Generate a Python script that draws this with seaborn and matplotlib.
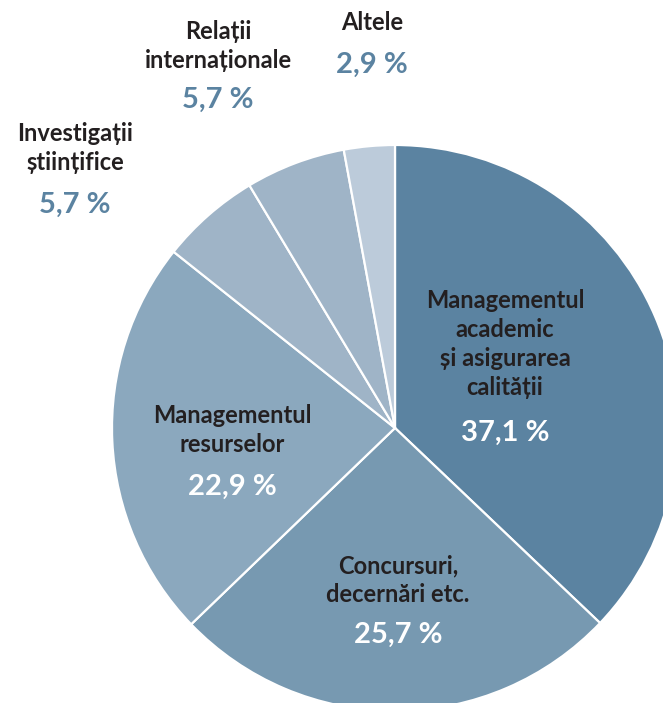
import matplotlib
matplotlib.use("Agg")
import matplotlib.pyplot as plt
import seaborn as sns

# date
categorii = [
    "Managementul\nacademic\nși asigurarea\ncalității",
    "Concursuri,\ndecernări etc.",
    "Managementul\nresurselor",
    "Investigații\nștiințifice",
    "Relații\ninternaționale",
    "Altele",
]
procente = [37.1, 25.7, 22.9, 5.7, 5.7, 2.9]
culori = ["#5b83a1", "#7799b1", "#8ba8be", "#9fb4c7", "#9fb4c7", "#bccbda"]

sns.set_theme(style="white")
plt.rcParams["font.family"] = ["Lato", "DejaVu Sans"]

W, H = 663, 703
fig = plt.figure(figsize=(W / 100, H / 100), dpi=100)
ax = fig.add_axes([0, 0, 1, 1])

# pie (centru si raza in pixeli ai figurii); axa y inversata -> counterclock True
ax.pie(
    procente,
    colors=sns.color_palette(culori),
    startangle=-90,
    counterclock=True,
    center=(395, 428),
    radius=283,
    frame=True,
    wedgeprops=dict(edgecolor="white", linewidth=1.6),
)
ax.set_xlim(0, W)
ax.set_ylim(H, 0)
ax.set_aspect("equal")
ax.axis("off")

# pozitii etichete (x, y nume, y procent, culoare procent)
pozitii = [
    (505, 344, 433, "white"),
    (398, 580, 635, "white"),
    (232, 430, 487, "white"),
    (75, 148, 205, "#5b83a1"),
    (218, 46, 100, "#5b83a1"),
    (372, 22, 65, "#5b83a1"),
]
for nume, p, (x, yn, yp, cp) in zip(categorii, procente, pozitii):
    ax.text(x, yn, nume, ha="center", va="center", fontsize=17,
            fontweight="bold", color="#231f20", linespacing=1.3)
    ax.text(x, yp, f"{p:.1f} %".replace(".", ","), ha="center", va="center",
            fontsize=21, fontweight="bold", color=cp)

fig.savefig("out.png", dpi=100)
